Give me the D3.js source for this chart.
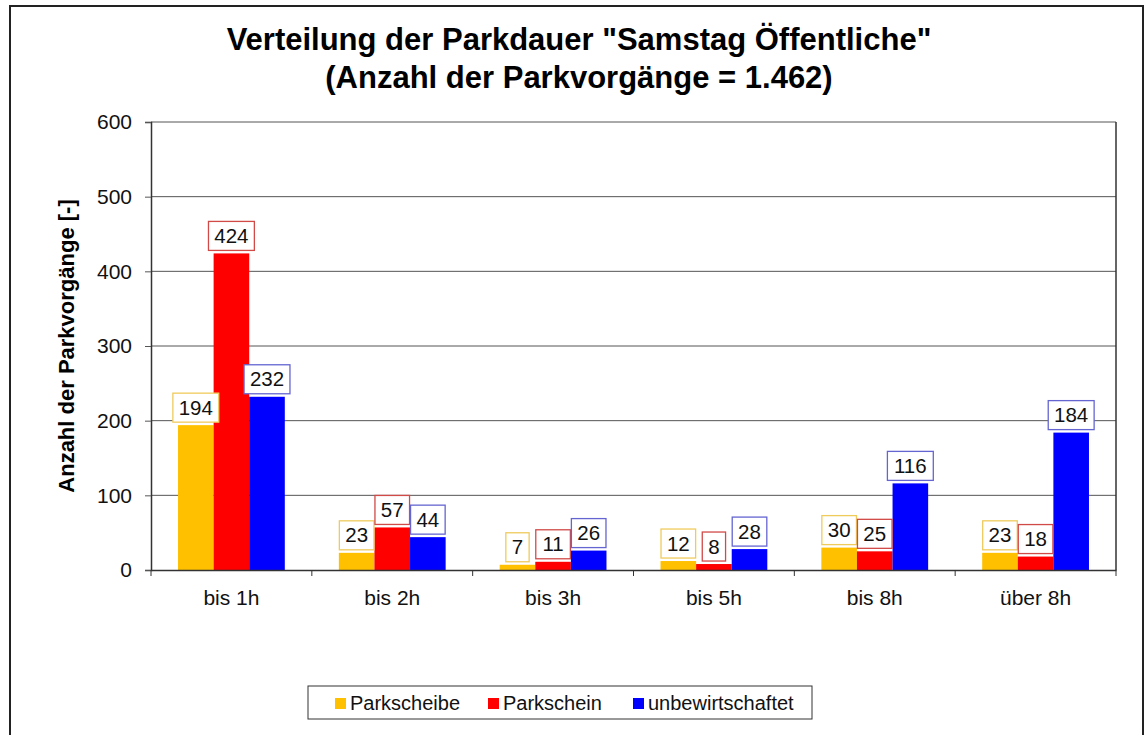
<!DOCTYPE html>
<html>
<meta charset="utf-8">
<script src="https://cdn.jsdelivr.net/npm/d3@7"></script>
<style>
  body { margin: 0; background: #fff; }
  text { font-family: "Liberation Sans", Arial, sans-serif; }
</style>
<body>
<div id="chart"></div>
<script>

var categories = ["bis 1h", "bis 2h", "bis 3h", "bis 5h", "bis 8h", "über 8h"];
var seriesNames = ["Parkscheibe", "Parkschein", "unbewirtschaftet"];
var parkscheibe = [194, 23, 7, 12, 30, 23];
var parkschein = [424, 57, 11, 8, 25, 18];
var unbewirtschaftet = [232, 44, 26, 28, 116, 184];
var yTicks = [0, 100, 200, 300, 400, 500, 600];

var colors = ["#FFC000", "#FF0000", "#0000FF"];
var labelBorders = ["#EFCB5C", "#D24A48", "#6565D2"];
var allSeries = [parkscheibe, parkschein, unbewirtschaftet];

var W = 1146, H = 735;
var margin = {top: 122, right: 30, bottom: 165, left: 151};
var width = 1116 - margin.left,
    height = 570 - margin.top;

var svg = d3.select("#chart")
  .append("svg")
    .attr("width", W)
    .attr("height", H);

// outer frame
svg.append("rect")
  .attr("x", 10).attr("y", 6)
  .attr("width", 1133).attr("height", 740)
  .attr("fill", "#fff")
  .attr("stroke", "#222")
  .attr("stroke-width", 2);

// title
svg.append("text")
  .attr("x", 579).attr("y", 50)
  .attr("text-anchor", "middle")
  .style("font-size", "31px").style("font-weight", "bold")
  .text("Verteilung der Parkdauer \"Samstag Öffentliche\"");
svg.append("text")
  .attr("x", 579).attr("y", 88)
  .attr("text-anchor", "middle")
  .style("font-size", "31px").style("font-weight", "bold")
  .text("(Anzahl der Parkvorgänge = 1.462)");

var g = svg.append("g")
  .attr("transform", "translate(" + margin.left + "," + margin.top + ")");

var x = d3.scaleBand()
  .domain(categories)
  .range([0, width]);

var groupW = x.bandwidth() * 0.664;
var x1 = d3.scaleBand()
  .domain(d3.range(seriesNames.length))
  .range([(x.bandwidth() - groupW) / 2, (x.bandwidth() + groupW) / 2]);

var y = d3.scaleLinear()
  .domain([0, 600])
  .range([height, 0]);

// gridlines
g.selectAll("line.grid")
  .data(yTicks.filter(function(d) { return d > 0; }))
  .enter()
  .append("line")
    .attr("class", "grid")
    .attr("x1", 0).attr("x2", width)
    .attr("y1", function(d) { return y(d); })
    .attr("y2", function(d) { return y(d); })
    .attr("stroke", "#555")
    .attr("stroke-width", 1);

// right border of the plot
g.append("line").attr("x1", width).attr("x2", width).attr("y1", 0).attr("y2", height)
  .attr("stroke", "#333").attr("stroke-width", 1.5);

// bars
var groups = g.selectAll("g.cat")
  .data(categories)
  .enter()
  .append("g")
    .attr("class", "cat")
    .attr("transform", function(d) { return "translate(" + x(d) + ",0)"; });

groups.each(function(cat, ci) {
  var sel = d3.select(this);
  allSeries.forEach(function(values, si) {
    var v = values[ci];
    sel.append("rect")
      .attr("x", x1(si))
      .attr("y", y(v))
      .attr("width", x1.bandwidth())
      .attr("height", height - y(v))
      .attr("fill", colors[si]);
  });
});

// value labels
groups.each(function(cat, ci) {
  var sel = d3.select(this);
  allSeries.forEach(function(values, si) {
    var v = values[ci];
    var s = String(v);
    var bw = s.length * 11.3 + 12;
    var cx = x1(si) + x1.bandwidth() / 2;
    var bottom = y(v) - 3;
    sel.append("rect")
      .attr("x", cx - bw / 2)
      .attr("y", bottom - 29)
      .attr("width", bw)
      .attr("height", 29)
      .attr("fill", "#fff")
      .attr("stroke", labelBorders[si])
      .attr("stroke-width", 1.3);
    sel.append("text")
      .attr("x", cx)
      .attr("y", bottom - 7.5)
      .attr("text-anchor", "middle")
      .style("font-size", "20.5px")
      .attr("fill", "#111")
      .text(s);
  });
});

// y axis
var yAxis = g.append("g")
  .call(d3.axisLeft(y).tickValues(yTicks).tickSize(6).tickPadding(13));
yAxis.select(".domain").attr("stroke", "#333").attr("stroke-width", 1.5);
yAxis.selectAll(".tick line").attr("stroke", "#555");
yAxis.selectAll("text")
  .style("font-size", "21px")
  .attr("fill", "#111")
  .attr("font-family", "Liberation Sans, Arial, sans-serif");

// x axis with boundary ticks
var xAxis = g.append("g")
  .attr("transform", "translate(0," + height + ")")
  .call(d3.axisBottom(x).tickSize(0).tickPadding(20));
xAxis.select(".domain").attr("stroke", "#333").attr("stroke-width", 1.5);
xAxis.selectAll("text")
  .style("font-size", "21px")
  .attr("fill", "#111")
  .attr("font-family", "Liberation Sans, Arial, sans-serif");
xAxis.selectAll("line.bound")
  .data(d3.range(categories.length + 1))
  .enter()
  .append("line")
    .attr("class", "bound")
    .attr("x1", function(i) { return i * x.step(); })
    .attr("x2", function(i) { return i * x.step(); })
    .attr("y1", 0).attr("y2", 6)
    .attr("stroke", "#333");

// y axis title
svg.append("text")
  .attr("transform", "translate(74," + (margin.top + height / 2) + ") rotate(-90)")
  .attr("text-anchor", "middle")
  .style("font-size", "22px").style("font-weight", "bold")
  .text("Anzahl der Parkvorgänge [-]");

// legend
var legend = svg.append("g").attr("transform", "translate(308,686)");
legend.append("rect")
  .attr("width", 504).attr("height", 33)
  .attr("fill", "#fff").attr("stroke", "#333").attr("stroke-width", 1);
var legX = [27, 180, 325];
seriesNames.forEach(function(name, i) {
  legend.append("rect")
    .attr("x", legX[i]).attr("y", 12)
    .attr("width", 11).attr("height", 11)
    .attr("fill", colors[i]);
  legend.append("text")
    .attr("x", legX[i] + 15).attr("y", 24)
    .style("font-size", "20px")
    .attr("fill", "#111")
    .text(name);
});

</script>
</body>
</html>
